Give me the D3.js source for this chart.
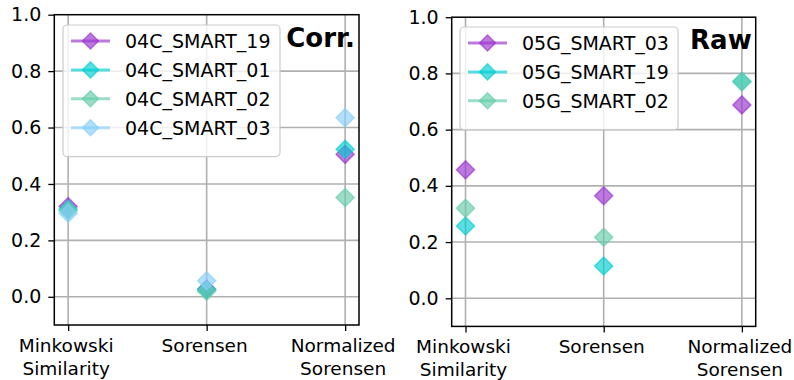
<!DOCTYPE html>
<html>
<head>
<meta charset="utf-8">
<script src="https://cdn.jsdelivr.net/npm/d3@7"></script>
<style>
  body { margin: 0; background: #fff; }
  text { font-family: "DejaVu Sans", sans-serif; }
</style>
</head>
<body>
<div id="myPlot"></div>
<script>
// categories on the x axis (two-line labels)
var categories = [["Minkowski", "Similarity"], ["Sorensen"], ["Normalized", "Sorensen"]];
var yTicks = [0.0, 0.2, 0.4, 0.6, 0.8, 1.0];

// left panel: "Corr."
var corrNames = ["04C_SMART_19", "04C_SMART_01", "04C_SMART_02", "04C_SMART_03"];
var corr19 = [0.32, 0.027, 0.505];
var corr01 = [0.31, 0.025, 0.523];
var corr02 = [0.305, 0.02, 0.352];
var corr03 = [0.296, 0.057, 0.635];

// right panel: "Raw"
var rawNames = ["05G_SMART_03", "05G_SMART_19", "05G_SMART_02"];
var raw03 = [0.457, 0.365, 0.688];
var raw19 = [0.257, 0.115, 0.771];
var raw02 = [0.32, 0.217, 0.771];

var purple = "#9932cc", turq = "#00ced1", aqua = "#66cdaa", sky = "#87cefa";
var fs = 19;

var svg = d3.select("#myPlot")
  .append("svg")
  .attr("width", 794)
  .attr("height", 380);

function diamond(g, cx, cy, color, r) {
  g.append("path")
    .attr("d", "M" + cx + "," + (cy - r) + "L" + (cx + r) + "," + cy +
      "L" + cx + "," + (cy + r) + "L" + (cx - r) + "," + cy + "Z")
    .attr("fill", color)
    .attr("fill-opacity", 0.65)
    .attr("stroke", color)
    .attr("stroke-opacity", 0.65)
    .attr("stroke-width", 1.5);
}

function drawPanel(box, series, names, colors, title, legendBox) {
  var x = d3.scaleLinear().domain([-0.1, 2.1]).range([box.left, box.right]);
  var y = d3.scaleLinear().domain([-0.1, 1.0]).range([box.bottom, box.top]);
  var g = svg.append("g");

  // grid
  g.selectAll(".hgrid").data(yTicks.slice(0, 5)).enter().append("line")
    .attr("x1", box.left).attr("x2", box.right)
    .attr("y1", function (d) { return y(d); }).attr("y2", function (d) { return y(d); })
    .attr("stroke", "#b0b0b0").attr("stroke-width", 1.6);
  g.selectAll(".vgrid").data([0, 1, 2]).enter().append("line")
    .attr("x1", function (d) { return x(d); }).attr("x2", function (d) { return x(d); })
    .attr("y1", box.top).attr("y2", box.bottom)
    .attr("stroke", "#b0b0b0").attr("stroke-width", 1.6);

  // axes
  var yAxis = g.append("g")
    .attr("transform", "translate(" + box.left + ",0)")
    .call(d3.axisLeft(y).tickValues(yTicks).tickFormat(d3.format(".1f")).tickSize(6).tickPadding(7));
  var xAxis = g.append("g")
    .attr("transform", "translate(0," + box.bottom + ")")
    .call(d3.axisBottom(x).tickValues([0, 1, 2]).tickSize(6).tickFormat(""));
  [yAxis, xAxis].forEach(function (a) {
    a.select(".domain").remove();
    a.selectAll("line").attr("stroke", "#000").attr("stroke-width", 1.3);
    a.selectAll("text").attr("font-size", fs).attr("fill", "#000")
      .style("font-family", "DejaVu Sans");
  });
  // two-line category labels
  categories.forEach(function (lines, i) {
    var t = g.append("text")
      .attr("x", x(i) - 2).attr("y", box.bottom + 27)
      .attr("text-anchor", "middle").attr("font-size", 18.5);
    lines.forEach(function (s, j) {
      t.append("tspan").attr("x", x(i) - 2).attr("dy", j === 0 ? 0 : 22.5).text(s);
    });
  });

  // frame
  g.append("rect")
    .attr("x", box.left).attr("y", box.top)
    .attr("width", box.right - box.left).attr("height", box.bottom - box.top)
    .attr("fill", "none").attr("stroke", "#000").attr("stroke-width", 1.5);

  // markers
  series.forEach(function (vals, si) {
    vals.forEach(function (v, i) {
      diamond(g, x(i), y(v), colors[si], 9);
    });
  });

  // legend
  var lg = g.append("g");
  lg.append("rect")
    .attr("x", legendBox.x).attr("y", legendBox.y)
    .attr("width", legendBox.w).attr("height", 16 + names.length * 28.9)
    .attr("rx", 4)
    .attr("fill", "#fff").attr("fill-opacity", 0.8)
    .attr("stroke", "#cccccc").attr("stroke-width", 1.2);
  names.forEach(function (n, i) {
    var cy = legendBox.y + 16 + i * 28.9;
    lg.append("line")
      .attr("x1", legendBox.x + 8).attr("x2", legendBox.x + 47)
      .attr("y1", cy).attr("y2", cy)
      .attr("stroke", colors[i]).attr("stroke-opacity", 0.65).attr("stroke-width", 3);
    diamond(lg, legendBox.x + 27.5, cy, colors[i], 8);
    lg.append("text")
      .attr("x", legendBox.x + 62).attr("y", cy + 7)
      .attr("font-size", fs).text(n);
  });

  // title
  g.append("text")
    .attr("x", box.right - 4).attr("y", box.top + 32)
    .attr("text-anchor", "end")
    .attr("font-size", 26).attr("font-weight", "bold").text(title);
}

drawPanel({ left: 54.3, right: 359, top: 14.7, bottom: 325 },
  [corr19, corr01, corr02, corr03], corrNames, [purple, turq, aqua, sky], "Corr.",
  { x: 63, y: 25, w: 217 });
drawPanel({ left: 451.7, right: 755.7, top: 17.2, bottom: 326.4 },
  [raw03, raw19, raw02], rawNames, [purple, turq, aqua], "Raw",
  { x: 460, y: 27, w: 218 });
</script>
</body>
</html>
